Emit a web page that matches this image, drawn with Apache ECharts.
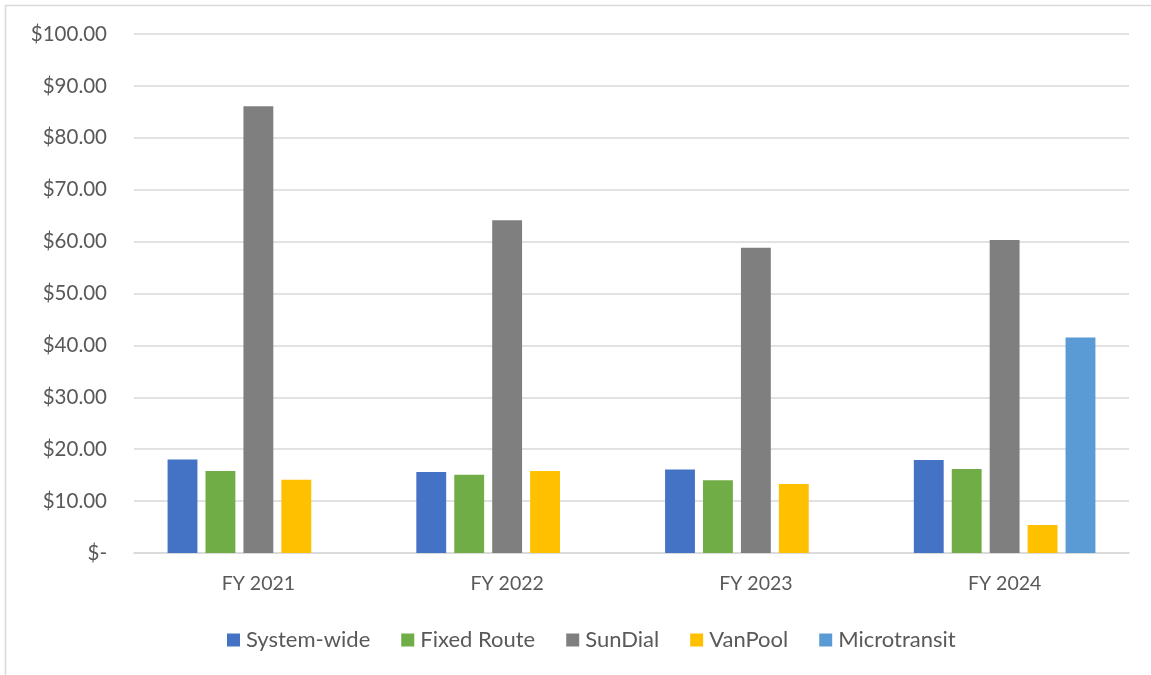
<!DOCTYPE html>
<html>
<head>
<meta charset="utf-8">
<script src="https://cdn.jsdelivr.net/npm/echarts@6/dist/echarts.min.js"></script>
<style>
  html, body { margin: 0; padding: 0; background: #fff; }
  #chart { width: 1151px; height: 675px; }
</style>
</head>
<body>
<div id="chart"></div>
<script>
const years = ["FY 2021", "FY 2022", "FY 2023", "FY 2024"];
const systemWide = [18.0, 15.6, 16.1, 17.9];
const fixedRoute = [15.8, 15.1, 14.0, 16.2];
const sunDial = [86.1, 64.1, 58.8, 60.3];
const vanPool = [14.1, 15.8, 13.3, 5.4];
const microtransit = [null, null, null, 41.5];

const seriesNames = ["System-wide", "Fixed Route", "SunDial", "VanPool", "Microtransit"];
const seriesColors = ["#4472C4", "#70AD47", "#7F7F7F", "#FFC000", "#5B9BD5"];
const seriesData = [systemWide, fixedRoute, sunDial, vanPool, microtransit];

const font = "Lato, 'Open Sans', sans-serif";
const chart = echarts.init(document.getElementById("chart"));

function money(v) {
  if (v === 0) return "$-";
  return "$" + v.toFixed(2);
}

const option = {
  animation: false,
  textStyle: { fontFamily: font },
  graphic: [
    {
      type: "rect",
      shape: { x: 5.5, y: 5.5, width: 1160, height: 680 },
      style: { fill: "none", stroke: "#D9D9D9", lineWidth: 1.5 },
      silent: true,
    },
  ],
  grid: { left: 134, right: 22, top: 34, bottom: 122 },
  legend: {
    left: 222,
    top: 624,
    itemWidth: 13,
    itemHeight: 13,
    itemGap: 31,
    icon: "rect",
    data: seriesNames,
    textStyle: { color: "#595959", fontSize: 22, fontFamily: font, padding: [0, 0, 0, 1] },
  },
  xAxis: {
    type: "category",
    data: years,
    axisTick: { show: false },
    axisLine: { lineStyle: { color: "#D9D9D9", width: 1.5 } },
    axisLabel: { color: "#595959", fontSize: 19.5, margin: 21, fontFamily: font },
  },
  yAxis: {
    type: "value",
    min: 0,
    max: 100,
    interval: 10,
    axisLine: { show: false },
    axisTick: { show: false },
    splitLine: { lineStyle: { color: "#D9D9D9", width: 1.5 } },
    axisLabel: { color: "#595959", fontSize: 20.5, margin: 27, fontFamily: font, formatter: money },
  },
  series: seriesNames.map((name, i) => ({
    name: name,
    type: "bar",
    data: seriesData[i],
    barGap: "27%",
    barCategoryGap: "27%",
    itemStyle: { color: seriesColors[i] },
  })),
};

chart.setOption(option);
</script>
</body>
</html>
